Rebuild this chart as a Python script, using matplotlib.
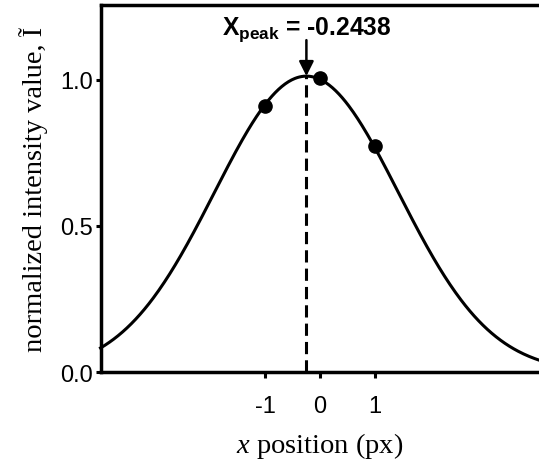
import numpy as np
import matplotlib
matplotlib.use('Agg')
import matplotlib.pyplot as plt

# puntos medidos (intensidad normalizada)
x_pts = [-1, 0, 1]
y_pts = [0.911, 1.005, 0.772]

# ajuste gaussiano
amp = 1.012
x_peak = -0.2438
sigma = 1.68

xlim = (-4, 4)
ylim = (0, 1.255)
xticks = [-1, 0, 1]
yticks = [0.0, 0.5, 1.0]

plt.rcParams['mathtext.fontset'] = 'custom'
plt.rcParams['mathtext.rm'] = 'Liberation Sans'
plt.rcParams['mathtext.bf'] = 'Liberation Sans:bold'
plt.rcParams['mathtext.it'] = 'Liberation Serif:italic'

fig = plt.figure(figsize=(5.39, 4.64), dpi=100)
ax = fig.add_axes([0.1865, 0.1955, 0.8135, 0.7915])

xs = np.linspace(xlim[0], xlim[1], 400)
ys = amp * np.exp(-(xs - x_peak) ** 2 / (2 * sigma ** 2))
ax.plot(xs, ys, color='black', lw=2.2, clip_on=False, zorder=3)
ax.plot(x_pts, y_pts, 'o', color='black', ms=9.5, zorder=4)

# linea discontinua en el pico
ax.plot([x_peak, x_peak], [0, amp], color='black', lw=2.2,
        linestyle=(0, (4, 2)), zorder=2)

ax.annotate('', xy=(x_peak, amp), xytext=(x_peak, 1.135),
            arrowprops=dict(arrowstyle='-|>', color='black', lw=1.8,
                            mutation_scale=22, shrinkA=0, shrinkB=0))
ax.text(x_peak, 1.156, r'$\mathbf{X_{peak}}$' + ' = -0.2438',
        ha='center', va='baseline', fontsize=17.7, fontweight='bold',
        family='Liberation Sans')

ax.set_xlim(*xlim)
ax.set_ylim(*ylim)
ax.set_xticks(xticks)
ax.set_yticks(yticks)
ax.set_xticklabels([str(t) for t in xticks], family='Liberation Sans', fontsize=17)
ax.set_yticklabels(['%.1f' % t for t in yticks], family='Liberation Sans', fontsize=17)
ax.tick_params(axis='x', direction='out', length=4.5, width=2.2, pad=12)
ax.tick_params(axis='y', direction='out', length=3.5, width=2.2, pad=2)

for s in ['left', 'bottom', 'top']:
    ax.spines[s].set_linewidth(2.5)
ax.spines['right'].set_visible(False)

ax.set_xlabel(r'$x$ position (px)', family='Liberation Serif', fontsize=20.5,
              labelpad=9)
ax.set_ylabel('normalized intensity value, Ĩ', family='Liberation Serif',
              fontsize=20.5, labelpad=9)

fig.savefig('out.png', dpi=100)
